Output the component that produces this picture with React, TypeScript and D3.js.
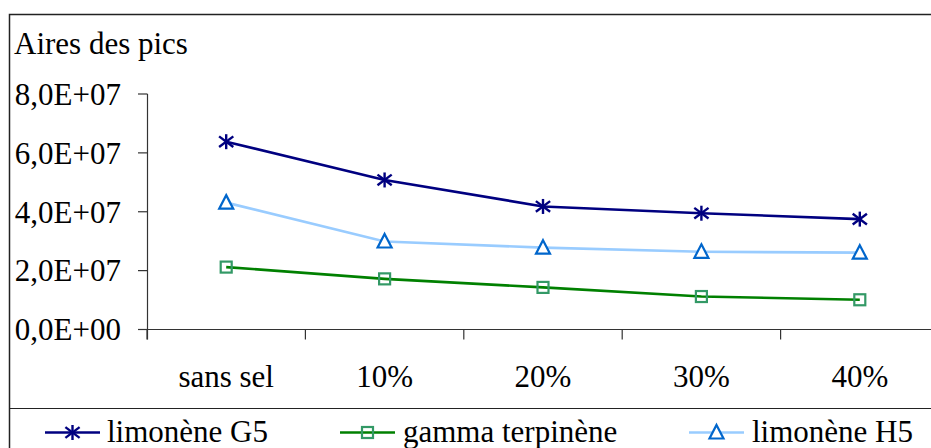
import React from 'react';
import * as d3 from 'd3';

const categories = ['sans sel', '10%', '20%', '30%', '40%'];
const limoneneG5 = [6.38e7, 5.08e7, 4.18e7, 3.95e7, 3.75e7];
const gammaTerpinene = [2.12e7, 1.72e7, 1.43e7, 1.12e7, 1.01e7];
const limoneneH5 = [4.31e7, 2.99e7, 2.78e7, 2.64e7, 2.61e7];
const yTicks = [0, 2e7, 4e7, 6e7, 8e7];

const W = 931;
const H = 448;
const FONT = "'Liberation Serif', 'Times New Roman', 'DejaVu Serif', serif";
const textStyle: React.CSSProperties = { fontFamily: FONT, fontSize: 31 };

// Excel-like "8,0E+07"
const fmt = (v: number) => {
  const [m, e] = v.toExponential(1).split('e');
  const sign = e.startsWith('-') ? '-' : '+';
  const exp = e.replace(/[+-]/, '').padStart(2, '0');
  return `${m.replace('.', ',')}E${sign}${exp}`;
};

type Marker = 'star' | 'square' | 'triangle';

const series: { name: string; values: number[]; line: string; mark: string; marker: Marker }[] = [
  { name: 'limonène G5', values: limoneneG5, line: '#000080', mark: '#000080', marker: 'star' },
  { name: 'gamma terpinène', values: gammaTerpinene, line: '#008000', mark: '#339966', marker: 'square' },
  { name: 'limonène H5', values: limoneneH5, line: '#99CCFF', mark: '#0066CC', marker: 'triangle' },
];

const MarkerShape: React.FC<{ type: Marker; x: number; y: number; color: string }> = ({ type, x, y, color }) => {
  if (type === 'star') {
    const r = 7.5;
    const d = r * 0.95;
    return (
      <g stroke={color} strokeWidth={2.4}>
        <line x1={x} y1={y - r} x2={x} y2={y + r} />
        <line x1={x - d} y1={y - d * 0.75} x2={x + d} y2={y + d * 0.75} />
        <line x1={x - d} y1={y + d * 0.75} x2={x + d} y2={y - d * 0.75} />
      </g>
    );
  }
  if (type === 'square') {
    const s = 5.5;
    return <rect x={x - s} y={y - s} width={s * 2} height={s * 2} fill="none" stroke={color} strokeWidth={2.2} />;
  }
  const tw = 7;
  const th = 6;
  return (
    <path
      d={`M${x},${y - th - 1.5}L${x + tw},${y + th}L${x - tw},${y + th}Z`}
      fill="#fff"
      stroke={color}
      strokeWidth={2.2}
    />
  );
};

export default function App() {
  const x = d3.scaleBand<string>().domain(categories).range([147, 939]).padding(0);
  const y = d3.scaleLinear().domain([0, 8e7]).range([329.5, 94]);
  const cx = (c: string) => (x(c) ?? 0) + x.bandwidth() / 2;

  const line = d3
    .line<number>()
    .x((_, i) => cx(categories[i]))
    .y(d => y(d));

  const legendPos = [
    { lineX: 45, textX: 107 },
    { lineX: 340, textX: 403 },
    { lineX: 689, textX: 752 },
  ];

  return (
    <svg
      width={W}
      height={H}
      style={{ position: 'absolute', left: 0, top: 0, background: '#fff' }}
    >
      <rect x={0} y={0} width={W} height={H} fill="#fff" />
      {/* outer frame */}
      <path d={`M9.5,${H + 2}V14.5H${W + 2}`} fill="none" stroke="#222" strokeWidth={1.5} />
      <line x1={9} x2={W + 2} y1={408.5} y2={408.5} stroke="#222" strokeWidth={1.2} />

      <text x={14} y={54} style={textStyle} fill="#000">Aires des pics</text>

      {/* y axis */}
      <line x1={147.5} x2={147.5} y1={y(8e7)} y2={y(0) + 10} stroke="#333" strokeWidth={1.2} />
      {yTicks.map(t => (
        <g key={t}>
          <line x1={138} x2={147.5} y1={y(t)} y2={y(t)} stroke="#333" strokeWidth={1.2} />
          <text x={121} y={y(t)} dy="0.35em" textAnchor="end" style={textStyle} fill="#000">
            {fmt(t)}
          </text>
        </g>
      ))}

      {/* x axis */}
      <line x1={138} x2={W + 2} y1={y(0)} y2={y(0)} stroke="#333" strokeWidth={1.2} />
      {categories.map(c => (
        <g key={c}>
          <line x1={x(c) ?? 0} x2={x(c) ?? 0} y1={y(0)} y2={y(0) + 10} stroke="#333" strokeWidth={1.2} />
          <text x={cx(c)} y={387} textAnchor="middle" style={textStyle} fill="#000">
            {c}
          </text>
        </g>
      ))}

      {/* series */}
      {series.map(s => (
        <g key={s.name}>
          <path d={line(s.values) ?? ''} fill="none" stroke={s.line} strokeWidth={2.6} />
          {s.values.map((v, i) => (
            <MarkerShape key={i} type={s.marker} x={cx(categories[i])} y={y(v)} color={s.mark} />
          ))}
        </g>
      ))}

      {/* legend */}
      {series.map((s, i) => {
        const p = legendPos[i];
        const ly = 432.5;
        return (
          <g key={s.name}>
            <line x1={p.lineX} x2={p.lineX + 55} y1={ly} y2={ly} stroke={s.line} strokeWidth={2.6} />
            <MarkerShape type={s.marker} x={p.lineX + 27.5} y={ly} color={s.mark} />
            <text x={p.textX} y={442} style={textStyle} fill="#000">
              {s.name}
            </text>
          </g>
        );
      })}
    </svg>
  );
}
